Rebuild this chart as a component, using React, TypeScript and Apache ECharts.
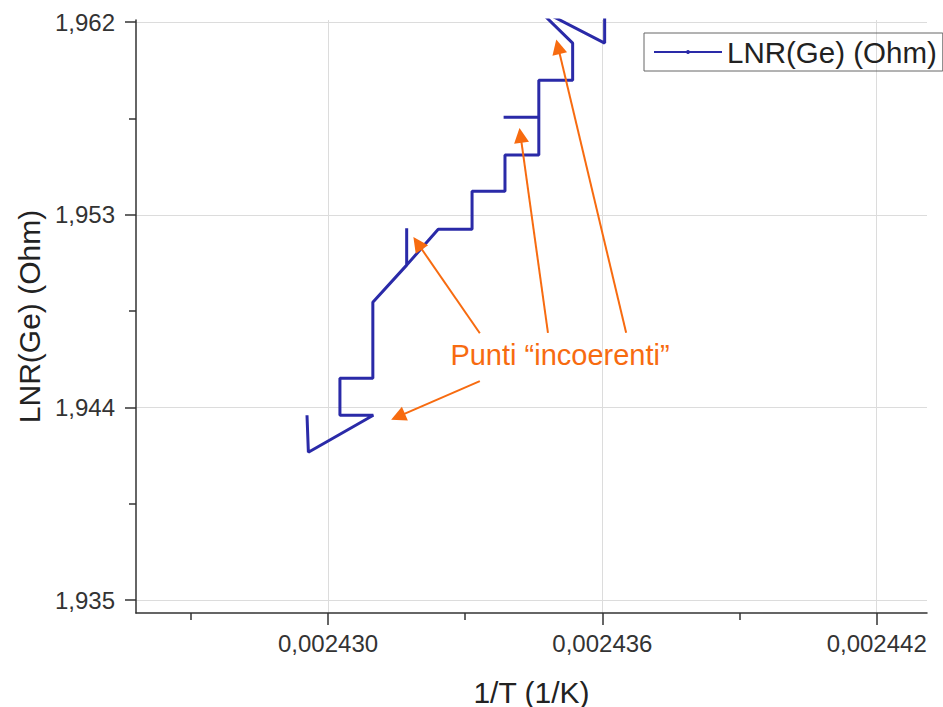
import React, { useEffect, useRef } from "react";
import * as echarts from "echarts";

// 1/T (1/K)
const xValues = [
  0.00242954, 0.00242957, 0.00243099, 0.00243026, 0.00243026, 0.00243098, 0.00243098,
  0.00243172, 0.00243172, 0.00243172, 0.00243241, 0.00243315, 0.00243315, 0.00243387,
  0.00243387, 0.00243461, 0.00243461, 0.00243384, 0.00243461, 0.00243461, 0.00243535,
  0.00243535, 0.00243457, 0.00243605, 0.00243605,
];
// LNR(Ge) (Ohm)
const yValues = [
  1.94364, 1.94191, 1.94364, 1.94364, 1.94537, 1.94537, 1.94892,
  1.95065, 1.95237, 1.95065, 1.95233, 1.95233, 1.9541, 1.9541,
  1.95579, 1.95579, 1.95756, 1.95756, 1.95756, 1.95929, 1.95929,
  1.96102, 1.96265, 1.96102, 1.96279,
];

const xMajorTicks = [0.00243, 0.002436, 0.002442];
const xMinorTicks = [0.002427, 0.002433, 0.002439];
const yMajorTicks = [1.935, 1.944, 1.953, 1.962];
const yMinorTicks = [1.9395, 1.9485, 1.9575];

const xRange = [0.0024258, 0.0024431];
const yRange = [1.9344, 1.9621];

// annotation arrows: [tailX, tailY, tipX, tipY] in data units
const arrows = [
  [0.00243332, 1.94747, 0.00243196, 1.95167],
  [0.00243332, 1.94523, 0.00243153, 1.94357],
  [0.00243481, 1.94749, 0.00243421, 1.95671],
  [0.00243652, 1.94749, 0.00243503, 1.96085],
];

const seriesName = "LNR(Ge) (Ohm)";
const annotationText = "Punti \u201cincoerenti\u201d";

const FONT = "'Liberation Sans', Arial, Helvetica, sans-serif";
const ORANGE = "#f76b10";
const BLUE = "#2a2aa8";

export default function App() {
  const ref = useRef<HTMLDivElement>(null);

  useEffect(() => {
    if (!ref.current) return;
    const chart = echarts.init(ref.current, undefined, { renderer: "svg" });
    const data = xValues.map((x, i) => [x, yValues[i]]);
    const fmtX = (v: number) => v.toFixed(6).replace(".", ",");
    const fmtY = (v: number) => v.toFixed(3).replace(".", ",");

    const axisLine = { show: true, lineStyle: { color: "#333", width: 1.5 } };
    const splitLine = { show: true, lineStyle: { color: "#dcdcdc", width: 1 } };

    chart.setOption({
      animation: false,
      backgroundColor: "#ffffff",
      textStyle: { fontFamily: FONT },
      grid: { left: 136, right: 16, top: 20, bottom: 94, outerBoundsMode: "none" },
      legend: {
        show: true,
        left: 644,
        top: 33,
        padding: [4, 6, 4, 9],
        borderColor: "#666",
        borderWidth: 1,
        itemWidth: 68,
        itemHeight: 5,
        textStyle: { fontSize: 29.5, color: "#222", fontFamily: FONT },
        data: [seriesName],
      },
      xAxis: [
        {
          type: "value",
          min: xRange[0],
          max: xRange[1],
          position: "bottom",
          name: "1/T (1/K)",
          nameLocation: "middle",
          nameGap: 64,
          nameTextStyle: { fontSize: 30, color: "#222", fontFamily: FONT },
          axisLine,
          axisTick: { show: true, inside: false, length: 12, customValues: xMajorTicks, lineStyle: { color: "#333", width: 1.5 } },
          axisLabel: { show: true, customValues: xMajorTicks, formatter: fmtX, fontSize: 24, color: "#333", margin: 18, fontFamily: FONT },
          splitLine,
        },
        {
          type: "value",
          min: xRange[0],
          max: xRange[1],
          position: "bottom",
          axisLine: { show: false },
          axisTick: { show: true, inside: false, length: 7, customValues: xMinorTicks, lineStyle: { color: "#333", width: 1.5 } },
          axisLabel: { show: false, customValues: xMinorTicks },
          splitLine: { show: false },
        },
      ],
      yAxis: [
        {
          type: "value",
          min: yRange[0],
          max: yRange[1],
          position: "left",
          name: "LNR(Ge) (Ohm)",
          nameLocation: "middle",
          nameGap: 90,
          nameTextStyle: { fontSize: 30, color: "#222", fontFamily: FONT },
          axisLine,
          axisTick: { show: true, inside: false, length: 11, customValues: yMajorTicks, lineStyle: { color: "#333", width: 1.5 } },
          axisLabel: { show: true, customValues: yMajorTicks, formatter: fmtY, fontSize: 24, color: "#333", margin: 21, fontFamily: FONT },
          splitLine,
        },
        {
          type: "value",
          min: yRange[0],
          max: yRange[1],
          position: "left",
          axisLine: { show: false },
          axisTick: { show: true, inside: false, length: 7, customValues: yMinorTicks, lineStyle: { color: "#333", width: 1.5 } },
          axisLabel: { show: false, customValues: yMinorTicks },
          splitLine: { show: false },
        },
      ],
      series: [
        {
          name: seriesName,
          type: "line",
          xAxisIndex: 0,
          yAxisIndex: 0,
          data,
          symbol: "circle",
          symbolSize: 2.5,
          showSymbol: false,
          clip: true,
          color: BLUE,
          lineStyle: { color: BLUE, width: 3 },
          itemStyle: { color: BLUE },
          markLine: {
            silent: true,
            symbol: ["none", "triangle"],
            symbolSize: 15,
            label: { show: false },
            lineStyle: { color: ORANGE, width: 2, type: "solid" },
            emphasis: { disabled: true },
            data: arrows.map((a) => [
              { coord: [a[0], a[1]] },
              { coord: [a[2], a[3]] },
            ]),
          },
        },
      ],
      graphic: [
        {
          type: "text",
          x: 560,
          y: 355,
          silent: true,
          style: {
            text: annotationText,
            fontSize: 29,
            fontFamily: FONT,
            fill: ORANGE,
            align: "center",
            verticalAlign: "middle",
          },
        },
      ],
    });

    return () => chart.dispose();
  }, []);

  return (
    <div
      ref={ref}
      style={{ position: "fixed", left: 0, top: 0, width: 943, height: 707, background: "#fff" }}
    />
  );
}
